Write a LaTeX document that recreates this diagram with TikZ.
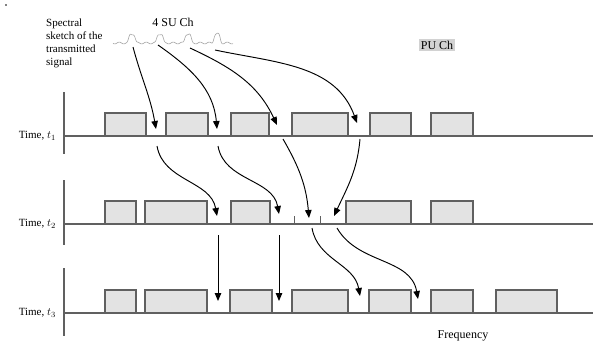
\documentclass[tikz,border=0pt]{standalone}
\usepackage{fontspec}
\setmainfont{Liberation Serif}
\usepackage{tikz}
\usetikzlibrary{arrows.meta}

\begin{document}
\begin{tikzpicture}[
    x=1pt, y=-1pt,
    chbox/.style={draw=gray!75!black, fill=gray!22, line width=1.1pt},
    axis/.style={draw=gray!75!black, line width=1.1pt},
    arr/.style={-{Triangle[length=8pt, width=6.5pt]}, line width=0.95pt, black},
    sketch/.style={gray!70, line width=0.6pt},
    lbl/.style={font=\fontsize{11}{12.8}\selectfont, inner sep=0pt},
    big/.style={font=\fontsize{12}{14}\selectfont, inner sep=0pt}
  ]
  \useasboundingbox (0,0) rectangle (593,343);
  \fill (6,5) circle (0.9);

  % top labels
  \node[lbl, anchor=north west, align=left] (spec) at (46,19)
    {Spectral\\sketch of the\\transmitted\\signal};
  \node[big] (such) at (173,22) {4 SU Ch};
  \node[big, fill=gray!35, inner sep=1.5pt] (puch) at (437,45) {PU Ch};

  % spectral sketch of the four SU channels
  \draw[sketch] plot[domain=113:233, samples=240, smooth]
    (\x, {43 - 9*exp(-(min(((\x-132)/3.6)^2,5))^2)
              - 9*exp(-(min(((\x-160)/3.6)^2,5))^2)
              - 9*exp(-(min(((\x-188)/3.6)^2,5))^2)
              - 9*exp(-(min(((\x-217)/3.6)^2,5))^2)
              - 0.9*sin(\x*40)});

  % time rows
  \foreach \y/\top/\bot/\i in {136/92/154/1, 224/180/245/2, 313/268/336/3} {
    \draw[axis] (64,\top) -- (64,\bot);
    \node[lbl, anchor=east] (t\i) at (56,\y) {Time, $t_\i$};
  }
  \foreach \a/\b in {105/146, 166/208, 231/269, 292/348, 370/411, 431/473}
    \draw[chbox] (\a,136) rectangle (\b,113);
  \foreach \a/\b in {105/136, 145/207, 231/270, 346/411, 431/473}
    \draw[chbox] (\a,224) rectangle (\b,201);
  \foreach \a/\b in {105/136, 145/207, 230/272, 292/348, 369/411, 431/473, 496/557}
    \draw[chbox] (\a,313) rectangle (\b,290);
  \foreach \y in {136, 224, 313}
    \draw[axis] (64,\y) -- (593,\y);
  \foreach \x in {294, 320}
    \draw[axis, line width=0.8pt] (\x,224) -- (\x,216);

  \node[big] (freq) at (463,336) {Frequency};

  % arrow end points
  \coordinate (s1) at (133,47);  \coordinate (s2) at (158,45);
  \coordinate (s3) at (190,48);  \coordinate (s4) at (215,50);
  \coordinate (a1) at (156,129); \coordinate (a2) at (217,129);
  \coordinate (a3) at (277,125); \coordinate (a4) at (357,123);
  \coordinate (b1s) at (157,146); \coordinate (b2s) at (218,146);
  \coordinate (b3s) at (283,139); \coordinate (b4s) at (360,139);
  \coordinate (b1) at (217,216); \coordinate (b2) at (279,214);
  \coordinate (b3) at (309,218); \coordinate (b4) at (334,216);
  \coordinate (c1s) at (218,235); \coordinate (c2s) at (279,235);
  \coordinate (c3s) at (312,228); \coordinate (c4s) at (337,228);
  \coordinate (c1) at (218,301); \coordinate (c2) at (279,301);
  \coordinate (c3) at (360,296); \coordinate (c4) at (418,299);

  % SU channel hops
  \draw[arr] (s1) to[out=-75, in=100] (a1);
  \draw[arr] (s2) to[out=-35, in=95] (a2);
  \draw[arr] (s3) to[out=-25, in=115] (a3);
  \draw[arr] (s4) to[out=-12, in=110] (a4);

  \draw[arr] (b1s) to[out=-80, in=100] (b1);
  \draw[arr] (b2s) to[out=-80, in=100] (b2);
  \draw[arr] (b3s) to[out=-60, in=95] (b3);
  \draw[arr] (b4s) to[out=-95, in=65] (b4);

  \draw[arr] (c1s) -- (c1);
  \draw[arr] (c2s) -- (c2);
  \draw[arr] (c3s) to[out=-80, in=100] (c3);
  \draw[arr] (c4s) to[out=-60, in=100] (c4);
\end{tikzpicture}
\end{document}
